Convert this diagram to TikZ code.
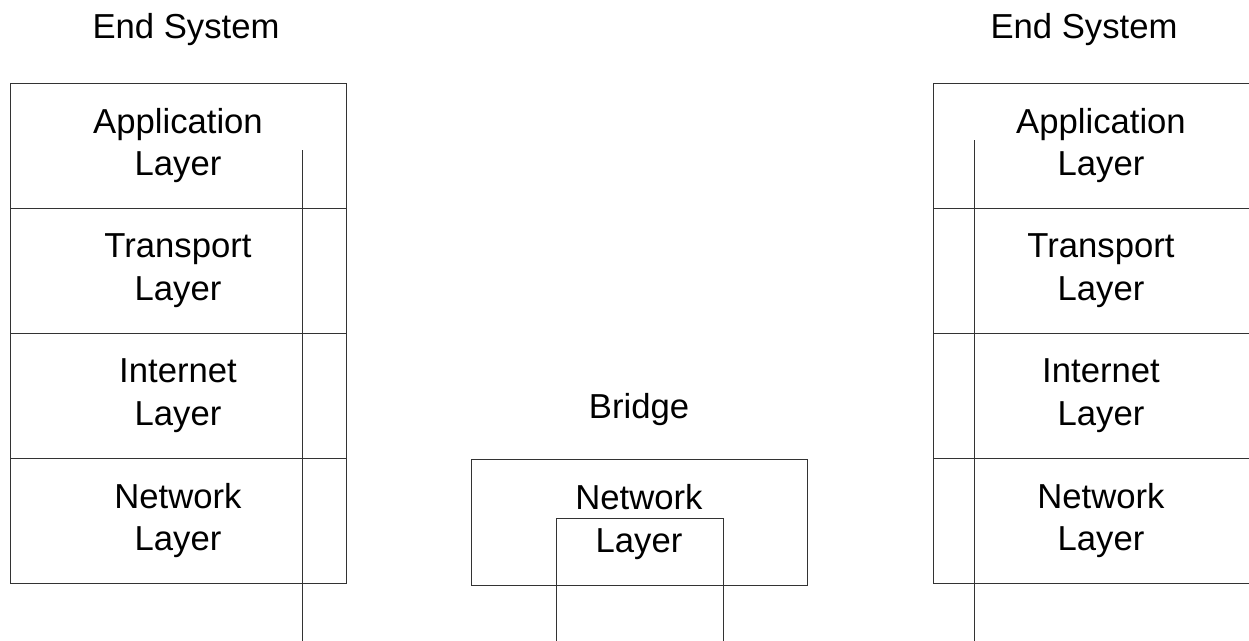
\documentclass[tikz,border=0pt]{standalone}
\usepackage{fontspec}
\setmainfont{Liberation Sans}
\begin{document}
\begin{tikzpicture}[x=0.75pt,y=-0.75pt,
  every node/.style={font=\fontsize{26}{32}\selectfont, align=center, inner sep=0pt},
  layer/.style={draw=black!80, line width=0.75pt, minimum width=336*0.75pt, minimum height=125*0.75pt},
  wire/.style={draw=black!80, line width=0.75pt}]
\clip (0,0) rectangle (1249,640);
% left end system
\node (lt) at (186,30) {End System};
\node[layer] (la) at (178,145.5) {Application\\Layer};
\node[layer] (lb) at (178,270.5) {Transport\\Layer};
\node[layer] (lc) at (178,395.5) {Internet\\Layer};
\node[layer] (ld) at (178,520.5) {Network\\Layer};
\coordinate (l1) at (302,150);
\coordinate (l2) at (302,645);
\draw[wire] (l1) -- (l2);
% bridge
\node (bt) at (639,410) {Bridge};
\node[layer, minimum height=126*0.75pt] (br) at (639,522) {Network\\Layer};
\coordinate (p1) at (556,645);
\coordinate (p2) at (556,518);
\coordinate (p3) at (723,518);
\coordinate (p4) at (723,645);
\draw[wire] (p1) -- (p2) -- (p3) -- (p4);
% right end system
\node (rt) at (1084,30) {End System};
\node[layer] (ra) at (1101,145.5) {Application\\Layer};
\node[layer] (rb) at (1101,270.5) {Transport\\Layer};
\node[layer] (rc) at (1101,395.5) {Internet\\Layer};
\node[layer] (rd) at (1101,520.5) {Network\\Layer};
\coordinate (r1) at (974,140);
\coordinate (r2) at (974,645);
\draw[wire] (r1) -- (r2);
\end{tikzpicture}
\end{document}
